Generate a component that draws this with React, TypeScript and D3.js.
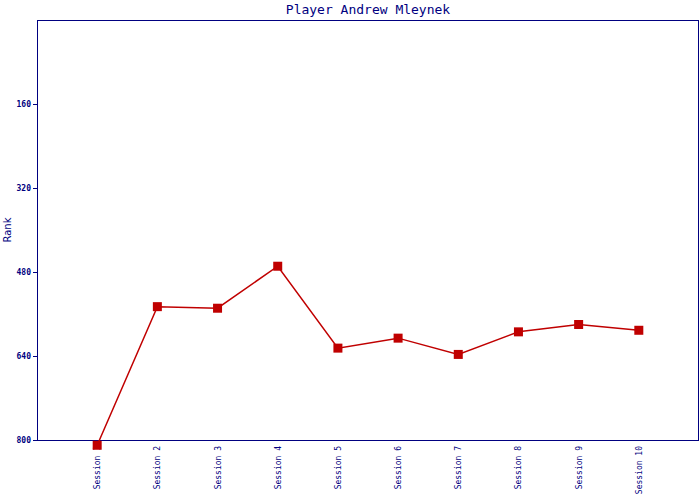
import React from "react";
import * as d3 from "d3";

const title = "Player Andrew Mleynek";
const sessions = ["Session 1", "Session 2", "Session 3", "Session 4", "Session 5", "Session 6", "Session 7", "Session 8", "Session 9", "Session 10"];
const ranks = [810, 546, 549, 469, 625, 606, 637, 594, 580, 591];
const yTicks = [160, 320, 480, 640, 800];
const yLabel = "Rank";

const W = 700, H = 500;
const left = 37, right = 699, top = 20, bottom = 440;
const navy = "#000080";
const red = "#c00000";
const mono = "'DejaVu Sans Mono', monospace";

export default function App() {
  const x = d3.scalePoint<string>().domain(sessions).range([left, right]).padding(1);
  const y = d3.scaleLinear().domain([0, 800]).range([top, bottom]);
  const data = sessions.map((s, i) => ({ s, v: ranks[i] }));
  const line = d3.line<{ s: string; v: number }>().x(d => x(d.s)!).y(d => y(d.v));
  return (
    <svg width={W} height={H} style={{ position: "absolute", left: 0, top: 0, background: "#fff" }}>
      <rect x={0} y={0} width={W} height={H} fill="#fff" />
      <text x={(left + right) / 2} y={14} textAnchor="middle" fontFamily={mono} fontSize={13} fill={navy}>{title}</text>
      <rect x={left + 0.5} y={top + 0.5} width={right - left - 1} height={bottom - top} fill="none" stroke={navy} strokeWidth={1} shapeRendering="crispEdges" />
      {yTicks.map(t => (
        <g key={t}>
          <line x1={left - 4} x2={left} y1={y(t) + 0.5} y2={y(t) + 0.5} stroke={navy} shapeRendering="crispEdges" />
          <text x={31} y={y(t) + 3} textAnchor="end" fontFamily={mono} fontSize={8} fontWeight="bold" fill={navy}>{t}</text>
        </g>
      ))}
      <text transform={`translate(11,${(top + bottom) / 2}) rotate(-90)`} textAnchor="middle" fontFamily="'DejaVu Sans', sans-serif" fontSize={10} fill={navy}>{yLabel}</text>
      {sessions.map(s => (
        <text key={s} transform={`translate(${x(s)! + 3},446) rotate(-90)`} textAnchor="end" fontFamily={mono} fontSize={8} fill={navy}>{s}</text>
      ))}
      <path d={line(data) || ""} fill="none" stroke={red} strokeWidth={1.5} />
      {data.map(d => (
        <rect key={d.s} x={x(d.s)! - 4.5} y={y(d.v) - 4.5} width={9} height={9} fill={red} />
      ))}
    </svg>
  );
}
